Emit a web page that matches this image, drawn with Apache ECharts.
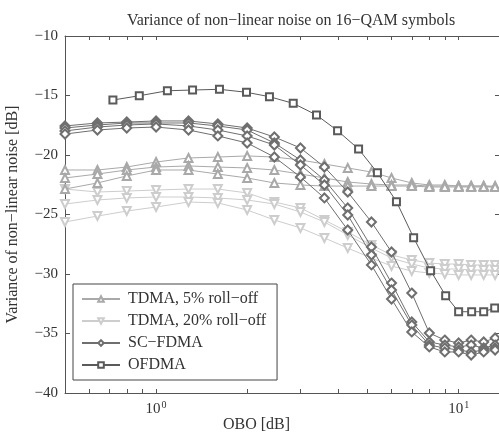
<!DOCTYPE html>
<html>
<head>
<meta charset="utf-8">
<script src="https://cdn.jsdelivr.net/npm/echarts@6/dist/echarts.min.js"></script>
<style>html,body{margin:0;padding:0;background:#fff}#c{width:499px;height:435px}</style>
</head>
<body>
<div id="c"></div>
<script>
// OBO grid (dB) shared by TDMA and SC-FDMA curves
const obo = [0.5, 0.64, 0.8, 1.0, 1.28, 1.6, 2.0, 2.46, 3.0, 3.6, 4.3, 5.15, 6.0, 7.0, 8.0, 9.0, 10, 11, 12.1, 13.2];
// OFDMA OBO grid
const oboOfdma = [0.72, 0.88, 1.09, 1.32, 1.62, 1.99, 2.37, 2.84, 3.39, 3.98, 4.67, 5.39, 6.23, 7.1, 8.08, 9.06, 10, 11.04, 12.1, 13.16];

const tdma5a = [-21.26,-21.26,-21.01,-20.59,-20.25,-20.17,-20.08,-20.17,-20.42,-20.76,-21.09,-21.43,-21.93,-22.35,-22.52,-22.52,-22.61,-22.61,-22.61,-22.61];
const tdma5b = [-21.93,-21.60,-21.26,-21.01,-20.92,-21.01,-21.09,-21.26,-21.60,-21.93,-22.27,-22.44,-22.52,-22.52,-22.61,-22.61,-22.61,-22.61,-22.61,-22.69];
const tdma5c = [-22.86,-22.35,-21.76,-21.26,-21.26,-21.60,-21.93,-22.35,-22.52,-22.61,-22.61,-22.61,-22.61,-22.61,-22.69,-22.69,-22.69,-22.69,-22.69,-22.69];

const tdma20a = [-22.86,-23.11,-23.03,-22.94,-22.86,-22.86,-23.19,-23.95,-24.45,-25.46,-26.47,-27.56,-28.40,-28.82,-29.08,-29.16,-29.16,-29.24,-29.24,-29.24];
const tdma20b = [-24.12,-23.78,-23.61,-23.53,-23.53,-23.61,-23.78,-24.12,-24.79,-25.63,-26.72,-27.82,-28.66,-29.16,-29.50,-29.58,-29.58,-29.66,-29.66,-29.66];
const tdma20c = [-25.63,-25.13,-24.71,-24.37,-23.95,-24.03,-24.62,-25.46,-26.13,-26.97,-27.82,-28.66,-29.33,-29.75,-29.92,-30.00,-30.08,-30.08,-30.08,-30.08];

const scfdmaA = [-17.56,-17.31,-17.23,-17.14,-17.14,-17.39,-17.73,-18.49,-19.41,-21.01,-23.11,-25.63,-28.15,-31.60,-34.96,-35.55,-35.80,-35.55,-35.71,-35.38];
const scfdmaB = [-17.73,-17.48,-17.31,-17.31,-17.31,-17.56,-17.90,-18.99,-20.42,-22.10,-24.45,-27.73,-30.76,-34.03,-35.71,-35.97,-36.13,-35.97,-36.22,-35.97];
const scfdmaC = [-17.98,-17.65,-17.48,-17.39,-17.56,-17.90,-18.40,-19.16,-20.84,-22.52,-25.04,-28.40,-31.34,-34.29,-35.97,-36.22,-36.39,-36.55,-36.39,-36.22];
const scfdmaD = [-18.24,-17.90,-17.73,-17.65,-17.90,-18.40,-18.99,-20.17,-21.85,-23.61,-26.30,-29.24,-32.10,-34.87,-36.13,-36.55,-36.55,-36.81,-36.55,-36.39];

const ofdma = [-15.38,-15.02,-14.60,-14.54,-14.48,-14.73,-15.10,-15.66,-16.64,-17.96,-19.50,-21.49,-23.92,-26.95,-29.72,-31.82,-33.17,-33.17,-33.17,-32.86];

const names = ['TDMA, 5% roll\u2212off', 'TDMA, 20% roll\u2212off', 'SC\u2212FDMA', 'OFDMA'];
const xMinorTicks = [0.6,0.7,0.8,0.9,1,2,3,4,5,6,7,8,9,10];
const xLabels = [1, 10];

const FONT = 'Liberation Serif';
const pair = (xs, ys) => xs.map((x, i) => [x, ys[i]]);

const styles = [
  {color: '#a9a9a9', symbol: 'emptyTriangle', rot: 0, size: 8},
  {color: '#cdcdcd', symbol: 'emptyTriangle', rot: 180, size: 8},
  {color: '#6f6f6f', symbol: 'emptyDiamond', rot: 0, size: 9},
  {color: '#5a5a5a', symbol: 'emptyRect', rot: 0, size: 7}
];

function mk(idx, xs, ys, z) {
  const s = styles[idx];
  return {
    type: 'line', name: names[idx], data: pair(xs, ys),
    symbol: s.symbol, symbolRotate: s.rot, symbolSize: s.size,
    lineStyle: {color: s.color, width: 1},
    itemStyle: {color: s.color, borderColor: s.color, borderWidth: 1},
    z: z, animation: false, clip: true
  };
}

const series = [
  mk(1, obo, tdma20a, 2), mk(1, obo, tdma20b, 2), mk(1, obo, tdma20c, 2),
  mk(0, obo, tdma5a, 3), mk(0, obo, tdma5b, 3), mk(0, obo, tdma5c, 3),
  mk(2, obo, scfdmaA, 4), mk(2, obo, scfdmaB, 4), mk(2, obo, scfdmaC, 4), mk(2, obo, scfdmaD, 4),
  mk(3, oboOfdma, ofdma, 5)
];

const axisLine = {show: true, lineStyle: {color: '#555', width: 1}};
const chart = echarts.init(document.getElementById('c'), null, {renderer: 'canvas'});
chart.setOption({
  backgroundColor: '#fff',
  animation: false,
  textStyle: {fontFamily: FONT},
  title: {
    text: 'Variance of non\u2212linear noise on 16\u2212QAM symbols',
    left: 286, top: 8, textAlign: 'center',
    textStyle: {fontFamily: FONT, fontSize: 16, fontWeight: 'normal', color: '#333'}
  },
  grid: {left: 65, right: -1, top: 36, bottom: 42, containLabel: false, outerBoundsMode: 'none'},
  legend: {
    show: true, orient: 'vertical', left: 73, top: 284,
    data: names,
    itemWidth: 38, itemHeight: 7, itemGap: 6,
    padding: [7, 11, 7, 8],
    backgroundColor: '#fff', borderColor: '#444', borderWidth: 1,
    textStyle: {fontFamily: FONT, fontSize: 16, color: '#333', padding: [0,0,0,3]}
  },
  xAxis: [{
    type: 'log', logBase: 10, min: 0.5, max: 13.7, position: 'bottom',
    name: 'OBO [dB]', nameLocation: 'middle', nameGap: 24, nameMoveOverlap: false,
    nameTextStyle: {fontFamily: FONT, fontSize: 16, color: '#333', padding: [0, 52, 0, 0]},
    axisLine: axisLine,
    axisTick: {show: true, inside: true, length: 4, customValues: xMinorTicks, lineStyle: {color: '#555'}},
    axisLabel: {
      show: true, margin: 7, customValues: xLabels,
      formatter: v => '{b|10}{s|' + Math.round(Math.log10(v)) + '}',
      rich: {b: {fontFamily: FONT, fontSize: 15, color: '#333'}, s: {fontFamily: FONT, fontSize: 10, color: '#333', verticalAlign: 'top', padding: [0,0,8,1]}}
    },
    splitLine: {show: false}
  }, {
    type: 'log', logBase: 10, min: 0.5, max: 13.7, position: 'top',
    axisLine: axisLine,
    axisTick: {show: true, inside: true, length: 4, customValues: xMinorTicks, lineStyle: {color: '#555'}},
    axisLabel: {show: false}, splitLine: {show: false}
  }],
  yAxis: [{
    type: 'value', min: -40, max: -10, interval: 5, position: 'left',
    name: 'Variance of non\u2212linear noise [dB]', nameLocation: 'middle', nameGap: 44, nameMoveOverlap: false,
    nameTextStyle: {fontFamily: FONT, fontSize: 16, color: '#333'},
    axisLine: axisLine,
    axisTick: {show: true, inside: true, length: 5, lineStyle: {color: '#555'}},
    axisLabel: {margin: 7, fontFamily: FONT, fontSize: 15, color: '#333', formatter: v => (v < 0 ? '\u2212' : '') + Math.abs(v)},
    splitLine: {show: false}
  }, {
    type: 'value', min: -40, max: -10, interval: 5, position: 'right',
    axisLine: axisLine,
    axisTick: {show: true, inside: true, length: 5, lineStyle: {color: '#555'}},
    axisLabel: {show: false}, splitLine: {show: false}
  }],
  series: series
});
</script>
</body>
</html>
